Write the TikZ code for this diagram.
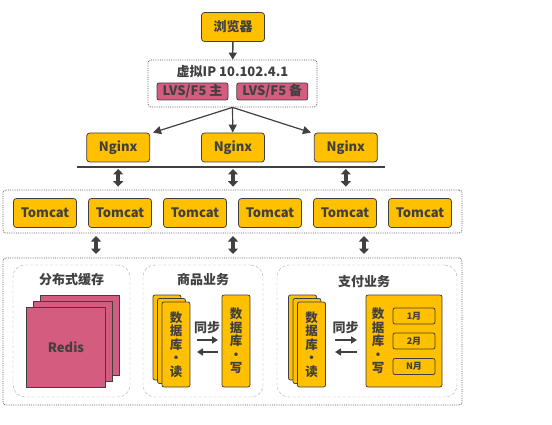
\documentclass[tikz,border=0pt]{standalone}
\usepackage{fontspec}
\setmainfont{Noto Sans CJK SC}
\usetikzlibrary{positioning,arrows.meta}
\definecolor{gold}{HTML}{FFC000}
\definecolor{rose}{HTML}{D45C7E}
\definecolor{ink}{HTML}{404040}

\begin{document}
\begin{tikzpicture}[x=1pt, y=-1pt, text=ink,
    font=\bfseries\fontsize{13}{15}\selectfont,
    box/.style = {draw=ink, thick, fill=gold, rounded corners=3pt, minimum width=63pt, minimum height=29pt, inner sep=0pt},
    lvs/.style = {draw=ink, thick, fill=rose, rounded corners=2pt, minimum width=71pt, minimum height=17pt, inner sep=0pt},
    sheet/.style = {draw=ink, thick, fill=rose, minimum width=79pt, minimum height=80pt, inner sep=0pt},
    db/.style = {draw=ink, thick, fill=gold, rounded corners=2pt, minimum width=28pt, inner sep=0pt, align=center, font=\bfseries\fontsize{12.5}{13.6}\selectfont},
    month/.style = {draw=ink, thick, rounded corners=2pt, minimum width=42pt, minimum height=16pt, inner sep=0pt, font=\bfseries\fontsize{9}{10}\selectfont},
    group/.style = {draw=ink!85, densely dotted, thick, rounded corners=3pt, inner sep=0pt},
    part/.style = {draw=ink!45, densely dashed, fill=white, rounded corners=12pt, inner sep=0pt},
    twin/.style = {{Triangle[length=5.5pt,width=10pt]}-{Triangle[length=5.5pt,width=10pt]}, line width=3.6pt, draw=ink},
    sync/.style = {-{Triangle[length=6pt,width=7pt]}, line width=1.6pt, draw=ink},
    ]
    \useasboundingbox (0,0) rectangle (552,425);

    % browser and virtual ip
    \node[box] (web) at (233,27) {浏览器};
    \node[group, minimum width=169pt, minimum height=47pt] (vip) at (232.5,83.5) {};
    \node (ip) at (232.5,72) {虚拟IP 10.102.4.1};
    \node[lvs] (l1) at (192.5,91.5) {LVS/F5 主};
    \node[lvs] (l2) [right=8pt of l1] {LVS/F5 备};
    \draw[-{Triangle[length=7pt,width=8pt]}, line width=1.4pt, ink] (web) -- (vip);

    % nginx
    \node[box] (n2) at (233,147.5) {Nginx};
    \node[box] (n1) [left=51pt of n2] {Nginx};
    \node[box] (n3) [right=49pt of n2] {Nginx};
    \path[-{Triangle[length=8pt,width=8pt]}, line width=1.2pt, ink]
        (vip.south) edge ([xshift=3pt]n1.north east)
        (vip.south) edge (n2)
        (vip.south) edge ([xshift=-3pt]n3.north west);

    \coordinate (busl) at (77,167);
    \coordinate (busr) at (385,167);
    \draw[line width=1.2pt, ink] (busl) -- (busr);

    % tomcat
    \node[group, minimum width=459pt, minimum height=43pt] (tg) at (232.5,211.5) {};
    \node[box] (t1) at (45,213) {Tomcat};
    \node[box] (t2) [right=11.2pt of t1] {Tomcat};
    \node[box] (t3) [right=11.2pt of t2] {Tomcat};
    \node[box] (t4) [right=11.2pt of t3] {Tomcat};
    \node[box] (t5) [right=11.2pt of t4] {Tomcat};
    \node[box] (t6) [right=11.2pt of t5] {Tomcat};

    \draw[twin, shorten <=2pt, shorten >=3pt] (n1 |- busl) -- (n1 |- tg.north);
    \draw[twin, shorten <=2pt, shorten >=3pt] (n2 |- busl) -- (n2 |- tg.north);
    \draw[twin, shorten <=2pt, shorten >=3pt] (n3 |- busl) -- (n3 |- tg.north);

    % services
    \node[group, minimum width=459pt, minimum height=147pt] (sg) at (232.5,331.5) {};
    \coordinate (a1) at (96,236);   \coordinate (b1) at (96,254);
    \coordinate (a2) at (233,236);  \coordinate (b2) at (233,254);
    \coordinate (a3) at (364,236);  \coordinate (b3) at (364,254);
    \draw[twin] (a1) -- (b1);
    \draw[twin] (a2) -- (b2);
    \draw[twin] (a3) -- (b3);

    % cache
    \node[part, minimum width=117pt, minimum height=132pt] (cache) at (71.5,331) {};
    \node[below=5pt of cache.north] {分布式缓存};
    \node[sheet] (r3) at (79.5,335.5) {};
    \node[sheet] (r2) at (72.8,341.2) {};
    \node[sheet] (r1) at (66,347) {Redis};

    % goods
    \node[part, minimum width=120pt, minimum height=132pt] (goods) at (203,331) {};
    \node[below=5pt of goods.north] {商品业务};
    \node[db, minimum height=85pt] at (167,337.5) {};
    \node[db, minimum height=85pt] at (171.5,341) {};
    \node[db, minimum height=85pt] (rd1) at (176,344.5) {数\\据\\库\\·\\读};
    \node[db, minimum height=92pt] (wr1) at (236,341) {数\\据\\库\\·\\写};
    \node at (207,328) {同步};
    \coordinate (s1) at (197,340); \coordinate (e1) at (218,340);
    \coordinate (s2) at (218,352); \coordinate (e2) at (197,352);
    \draw[sync] (s1) -- (e1);
    \draw[sync] (s2) -- (e2);

    % payment
    \node[part, minimum width=180pt, minimum height=132pt] (pay) at (367,331) {};
    \node (paytitle) at (364,282) {支付业务};
    \node[db, minimum height=85pt] at (302.5,337.5) {};
    \node[db, minimum height=85pt] at (307,341) {};
    \node[db, minimum height=85pt] (rd2) at (311.5,344.5) {数\\据\\库\\·\\读};
    \node[db, minimum width=76pt, minimum height=92pt] (wr2) at (404,341) {};
    \node[db, draw=none, fill=none] at (378,341) {数\\据\\库\\·\\写};
    \node[month] (m1) at (414,316) {1月};
    \node[month] (m2) at (414,341) {2月};
    \node[month] (m3) at (414,366.5) {N月};
    \node at (345.5,328) {同步};
    \coordinate (s3) at (335,340); \coordinate (e3) at (357,340);
    \coordinate (s4) at (357,352); \coordinate (e4) at (335,352);
    \draw[sync] (s3) -- (e3);
    \draw[sync] (s4) -- (e4);
\end{tikzpicture}
\end{document}
